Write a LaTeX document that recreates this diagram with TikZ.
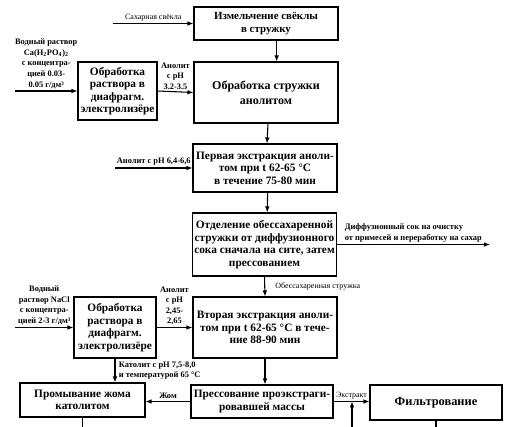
\documentclass[tikz,border=0pt]{standalone}
\usepackage{fontspec}
\setmainfont{Liberation Serif}
\usetikzlibrary{arrows.meta, positioning, calc}

\begin{document}
\begin{tikzpicture}[x=0.75pt, y=-0.75pt,
  every node/.style={font=\rmfamily},
  procbox/.style={rectangle, draw=black, line width=0.8pt, align=center, inner sep=1pt,
                  font=\fontsize{8.5}{9.4}\selectfont\bfseries},
  lbl/.style={align=center, inner sep=1.5pt, font=\fontsize{6.3}{7.9}\selectfont\bfseries},
  thinlbl/.style={align=center, inner sep=1.5pt, font=\fontsize{6}{7}\selectfont},
  flow/.style={-{Latex[length=4.5pt, width=3.5pt]}, line width=0.8pt},
  feed/.style={line width=0.8pt}
]
  \useasboundingbox (0,0) rectangle (512,427);

  % process boxes
  \node[procbox, minimum width=108pt, minimum height=24.75pt,
        font=\fontsize{8.2}{10}\selectfont\bfseries] (mill) at (266, 23.5)
    {Измельчение свёклы\\в стружку};
  \node[procbox, minimum width=108pt, minimum height=45.75pt,
        font=\fontsize{9}{11}\selectfont\bfseries] (treat) at (266, 92.5)
    {Обработка стружки\\анолитом};
  \node[procbox, minimum width=59.25pt, minimum height=43.5pt] (elA) at (117.5, 91)
    {Обработка\\раствора в\\диафрагм.\\электролизёре};
  \node[procbox, minimum width=108pt, minimum height=36pt] (extA) at (265, 168)
    {Первая экстракция аноли-\\том при t 62-65 °C\\в течение 75-80 мин};
  \node[procbox, minimum width=107.25pt, minimum height=47.25pt] (sep) at (264.5, 244.5)
    {Отделение обессахаренной\\стружки от диффузионного\\сока сначала на сите, затем\\прессованием};
  \node[procbox, minimum width=108pt, minimum height=45.75pt] (extB) at (265, 327.5)
    {Вторая экстракция аноли-\\том при t 62-65 °C в тече-\\ние 88-90 мин};
  \node[procbox, minimum width=61.5pt, minimum height=45.75pt] (elB) at (115, 327.5)
    {Обработка\\раствора в\\диафрагм.\\электролизёре};
  \node[procbox, minimum width=93.75pt, minimum height=25.5pt] (wash) at (82.5, 400)
    {Промывание жома\\католитом};
  \node[procbox, minimum width=106.5pt, minimum height=24.75pt] (press) at (262, 401.5)
    {Прессование проэкстраги-\\ровавшей массы};
  \node[procbox, minimum width=99pt, minimum height=26.25pt,
        font=\fontsize{9.3}{10}\selectfont\bfseries] (filt) at (436, 402.5)
    {Фильтрование};

  % free ends
  \coordinate (beetin) at (113, 23.5);
  \coordinate (caIn) at (15, 91);
  \coordinate (anIn) at (115, 168);
  \coordinate (juiceout) at (490, 244.5);
  \coordinate (naIn) at (15, 327.5);
  \coordinate (jn) at (352, 401.5);
  \coordinate (jnin) at (352, 427);
  \coordinate (washout) at (wash.south |- 0,427);
  \coordinate (filtout) at (filt.south |- 0,427);

  % main line
  \draw[flow] (beetin) -- node[thinlbl, above] {Сахарная свёкла} (mill.west);
  \draw[flow] ([xshift=8pt]mill.south) -- ([xshift=8pt]treat.north);
  \draw[flow] (caIn) -- node[lbl, above]
    {Водный раствор\\Ca(H\textsubscript{2}PO\textsubscript{4})\textsubscript{2}\\с концентра-\\цией 0.03-\\0.05 г/дм³} (elA.west);
  \draw[flow] (elA.east) -- node[lbl, above] {Анолит\\с pH\\3.2-3.5} (treat.west);
  \draw[flow] ([xshift=1.5pt]treat.south) -- ([xshift=1.5pt]extA.north);
  \draw[flow] (anIn) -- node[lbl, above] {Анолит с pH 6,4-6,6} (extA.west);
  \draw[flow] ([xshift=2pt]extA.south) -- ([xshift=2pt]sep.north);
  \draw[flow] (sep.east) -- node[lbl, above, align=left]
    {Диффузионный сок на очистку\\от примесей и переработку на сахар} (juiceout);
  \draw[flow] (sep.south) -- node[thinlbl, right, xshift=6pt] {Обессахаренная стружка} (extB.north);

  % second extraction
  \draw[flow] (naIn) -- node[lbl, above]
    {Водный\\раствор NaCl\\с концентра-\\цией 2-3 г/дм³} (elB.west);
  \draw[flow] (elB.east) -- node[lbl, above] {Анолит\\с pH\\2,45-\\2,65} (extB.west);
  \draw[flow] (elB.south) -- node[lbl, right, align=left, xshift=1pt]
    {Католит с pH 7,5-8,0\\и температурой 65 °C} (elB.south |- wash.north);
  \draw[flow] (extB.south) -- (extB.south |- press.north);
  \draw[flow] (press.west) -- node[lbl, above] {Жом} (press.west -| wash.east);
  \draw[flow] (press.east) -- node[thinlbl, above, inner sep=1pt] {Экстракт} (press.east -| filt.west);
  \draw[flow] (jnin) -- (jn);
  \draw[feed] (wash.south) -- (washout);
  \draw[feed] (filt.south) -- (filtout);
\end{tikzpicture}
\end{document}
